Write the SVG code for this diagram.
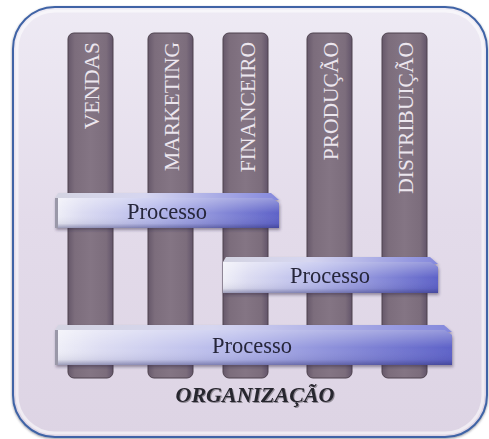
<svg xmlns="http://www.w3.org/2000/svg" width="489" height="439" viewBox="0 0 489 439">
  <defs>
    <style>
      .pillar { fill: url(#pillarFill); stroke: #4e424e; stroke-width: 1; }
      .pillar-label { font-family: "Liberation Serif", "Times New Roman", serif; font-size: 21.5px; fill: #ece6ee; text-anchor: end; }
      .bar-label { font-family: "Liberation Serif", "Times New Roman", serif; font-size: 22.5px; fill: #26263a; text-anchor: middle; }
      .title { font-family: "Liberation Serif", "Times New Roman", serif; font-size: 22px; font-weight: bold; font-style: italic; fill: #28262e; text-anchor: middle; }
      .bar-front { fill: url(#barFill); }
      .bar-shade { fill: url(#barShade); }
      .bar-top { fill: url(#barTop); }
    </style>
    <linearGradient id="panelFill" x1="0" y1="0" x2="0" y2="1">
      <stop offset="0" stop-color="#eeeaf4"/>
      <stop offset="0.5" stop-color="#e3dbea"/>
      <stop offset="1" stop-color="#ddd4e4"/>
    </linearGradient>
    <linearGradient id="pillarFill" x1="0" y1="0" x2="1" y2="0">
      <stop offset="0" stop-color="#66586a"/>
      <stop offset="0.15" stop-color="#7c6d7c"/>
      <stop offset="0.5" stop-color="#847584"/>
      <stop offset="0.85" stop-color="#7c6d7c"/>
      <stop offset="1" stop-color="#62546a"/>
    </linearGradient>
    <linearGradient id="barFill" x1="0" y1="0" x2="1" y2="0">
      <stop offset="0" stop-color="#f0f0f8"/>
      <stop offset="0.12" stop-color="#dcdcf2"/>
      <stop offset="0.45" stop-color="#b4b7ea"/>
      <stop offset="1" stop-color="#5e62c8"/>
    </linearGradient>
    <linearGradient id="barShade" x1="0" y1="0" x2="0" y2="1">
      <stop offset="0" stop-color="#ffffff" stop-opacity="0.35"/>
      <stop offset="0.5" stop-color="#ffffff" stop-opacity="0"/>
      <stop offset="0.85" stop-color="#20205a" stop-opacity="0.08"/>
      <stop offset="1" stop-color="#20205a" stop-opacity="0.4"/>
    </linearGradient>
    <linearGradient id="barTop" x1="0" y1="0" x2="1" y2="0">
      <stop offset="0" stop-color="#d4d4e2"/>
      <stop offset="0.4" stop-color="#d6d6f0"/>
      <stop offset="1" stop-color="#8488dc"/>
    </linearGradient>
    <filter id="barShadow" x="-5%" y="-20%" width="110%" height="150%">
      <feDropShadow dx="1" dy="2" stdDeviation="1.5" flood-color="#2a2040" flood-opacity="0.45"/>
    </filter>
    <filter id="panelShadow" x="-5%" y="-5%" width="110%" height="110%">
      <feDropShadow dx="0" dy="1" stdDeviation="1" flood-color="#303040" flood-opacity="0.5"/>
    </filter>
    <filter id="textShadow" x="-5%" y="-30%" width="110%" height="160%">
      <feDropShadow dx="1" dy="1" stdDeviation="0.6" flood-color="#000000" flood-opacity="0.35"/>
    </filter>
  </defs>

  <rect width="489" height="439" fill="#ffffff"/>

  <!-- outer panel -->
  <g id="organizacao-panel">
    <rect x="13" y="7" width="474" height="430" rx="42" ry="42" fill="url(#panelFill)" stroke="#3f64a6" stroke-width="2" filter="url(#panelShadow)"/>
    <rect x="17" y="11" width="466" height="422" rx="38" ry="38" fill="none" stroke="#ffffff" stroke-opacity="0.55" stroke-width="3"/>
  </g>

  <!-- department pillars -->
  <g id="vendas">
    <rect class="pillar" x="68" y="33" width="45" height="345" rx="6"/>
    <text class="pillar-label" transform="translate(99,42) rotate(-90)">VENDAS</text>
  </g>
  <g id="marketing">
    <rect class="pillar" x="148" y="33" width="45" height="345" rx="6"/>
    <text class="pillar-label" transform="translate(179,42) rotate(-90)">MARKETING</text>
  </g>
  <g id="financeiro">
    <rect class="pillar" x="223" y="33" width="45" height="345" rx="6"/>
    <text class="pillar-label" transform="translate(255,42) rotate(-90)">FINANCEIRO</text>
  </g>
  <g id="producao">
    <rect class="pillar" x="307" y="33" width="45" height="345" rx="6"/>
    <text class="pillar-label" transform="translate(338,42) rotate(-90)">PRODUÇÃO</text>
  </g>
  <g id="distribuicao">
    <rect class="pillar" x="382" y="33" width="45" height="345" rx="6"/>
    <text class="pillar-label" transform="translate(413,42) rotate(-90)">DISTRIBUIÇÃO</text>
  </g>

  <!-- process bars crossing the departments -->
  <g id="processo-1" filter="url(#barShadow)">
    <path class="bar-top" d="M55,198 L58,193 L271,193 L279,200 L272,200 Z"/>
    <path class="bar-front" d="M55,198 L272,198 L279,203 L279,228 L55,228 Z"/>
    <path class="bar-shade" d="M55,198 L272,198 L279,203 L279,228 L55,228 Z"/>
    <rect x="55" y="198" width="3" height="30" fill="#9a98a8"/>
    <text class="bar-label" x="167" y="219">Processo</text>
  </g>
  <g id="processo-2" filter="url(#barShadow)">
    <path class="bar-top" d="M223,262 L226,257 L430,257 L438,264 L431,264 Z"/>
    <path class="bar-front" d="M223,262 L431,262 L438,267 L438,293 L223,293 Z"/>
    <path class="bar-shade" d="M223,262 L431,262 L438,267 L438,293 L223,293 Z"/>
    <text class="bar-label" x="330" y="283">Processo</text>
  </g>
  <g id="processo-3" filter="url(#barShadow)">
    <path class="bar-top" d="M55,330 L58,325 L444,325 L452,332 L445,332 Z"/>
    <path class="bar-front" d="M55,330 L445,330 L452,335 L452,365 L55,365 Z"/>
    <path class="bar-shade" d="M55,330 L445,330 L452,335 L452,365 L55,365 Z"/>
    <rect x="55" y="330" width="3" height="35" fill="#9a98a8"/>
    <text class="bar-label" x="252" y="353">Processo</text>
  </g>

  <!-- caption -->
  <g id="titulo">
    <text class="title" x="255" y="402" filter="url(#textShadow)">ORGANIZAÇÃO</text>
  </g>
</svg>
